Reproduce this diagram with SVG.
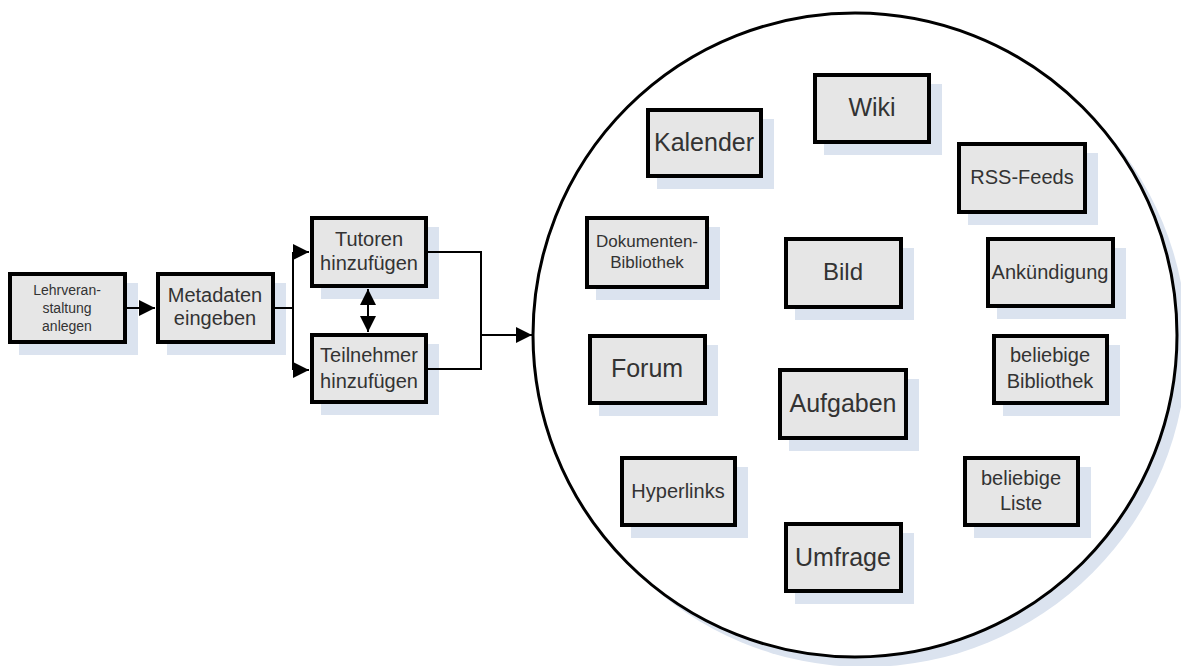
<svg xmlns="http://www.w3.org/2000/svg" width="1181" height="666" viewBox="0 0 1181 666">
  <style>
    .shadow { fill: #dbe3ef; }
    .box { fill: #e6e6e6; stroke: #000; stroke-width: 4; }
    .lbl { font-family: "Liberation Sans", Arial, sans-serif; fill: #333; text-anchor: middle; }
    .conn { fill: none; stroke: #000; stroke-width: 2; }
  </style>
  <defs>
    <marker id="arrow" viewBox="0 0 16 16" refX="16" refY="8" markerWidth="16" markerHeight="16" markerUnits="userSpaceOnUse" orient="auto-start-reverse">
      <path d="M0 0 L16 8 L0 16 z" fill="#000"/>
    </marker>
  </defs>
  <rect width="1181" height="666" fill="#fff"/>

  <!-- container circle -->
  <g id="container">
    <circle cx="865" cy="345" r="322" class="shadow"/>
    <circle cx="855" cy="335" r="322" fill="#fff" stroke="#000" stroke-width="3"/>
  </g>

  <!-- process chain -->
  <g id="lehrveranstaltung">
    <rect x="19" y="283" width="119" height="72" class="shadow"/>
    <rect x="10" y="274" width="115" height="68" class="box"/>
    <text class="lbl" font-size="14"><tspan x="67" y="295">Lehrveran-</tspan><tspan x="67" y="313">staltung</tspan><tspan x="67" y="331">anlegen</tspan></text>
  </g>
  <g id="metadaten">
    <rect x="167" y="283" width="119" height="72" class="shadow"/>
    <rect x="158" y="274" width="115" height="68" class="box"/>
    <text class="lbl" font-size="20"><tspan x="215" y="302">Metadaten</tspan><tspan x="215" y="325">eingeben</tspan></text>
  </g>
  <g id="tutoren">
    <rect x="321" y="227" width="118" height="72" class="shadow"/>
    <rect x="312" y="218" width="114" height="68" class="box"/>
    <text class="lbl" font-size="20"><tspan x="369" y="246">Tutoren</tspan><tspan x="369" y="270">hinzufügen</tspan></text>
  </g>
  <g id="teilnehmer">
    <rect x="321" y="344" width="118" height="71" class="shadow"/>
    <rect x="312" y="335" width="114" height="67" class="box"/>
    <text class="lbl" font-size="20"><tspan x="369" y="362">Teilnehmer</tspan><tspan x="369" y="388">hinzufügen</tspan></text>
  </g>

  <!-- connectors -->
  <g id="connectors">
    <path class="conn" d="M127 308 H155" marker-end="url(#arrow)"/>
    <path class="conn" d="M275 308 H293 M293 252 V370"/>
    <path class="conn" d="M293 252 H309" marker-end="url(#arrow)"/>
    <path class="conn" d="M293 370 H309" marker-end="url(#arrow)"/>
    <path class="conn" d="M368 289 V332" marker-start="url(#arrow)" marker-end="url(#arrow)"/>
    <path class="conn" d="M428 252 H481 V369 H428"/>
    <path class="conn" d="M481 335 H532" marker-end="url(#arrow)"/>
  </g>

  <!-- modules inside the container -->
  <g id="wiki">
    <rect x="824" y="84" width="118" height="71" class="shadow"/>
    <rect x="815" y="75" width="114" height="67" class="box"/>
    <text class="lbl" font-size="25" x="872" y="116">Wiki</text>
  </g>
  <g id="kalender">
    <rect x="657" y="119" width="117" height="70" class="shadow"/>
    <rect x="648" y="110" width="113" height="66" class="box"/>
    <text class="lbl" font-size="25" x="704" y="151">Kalender</text>
  </g>
  <g id="rss">
    <rect x="968" y="153" width="130" height="72" class="shadow"/>
    <rect x="959" y="144" width="126" height="68" class="box"/>
    <text class="lbl" font-size="20" x="1022" y="184">RSS-Feeds</text>
  </g>
  <g id="dokumentenbibliothek">
    <rect x="596" y="227" width="124" height="73" class="shadow"/>
    <rect x="587" y="218" width="120" height="69" class="box"/>
    <text class="lbl" font-size="17"><tspan x="647" y="247">Dokumenten-</tspan><tspan x="647" y="268">Bibliothek</tspan></text>
  </g>
  <g id="bild">
    <rect x="795" y="248" width="119" height="72" class="shadow"/>
    <rect x="786" y="239" width="115" height="68" class="box"/>
    <text class="lbl" font-size="24" x="843" y="280">Bild</text>
  </g>
  <g id="ankuendigung">
    <rect x="997" y="248" width="129" height="71" class="shadow"/>
    <rect x="988" y="239" width="125" height="67" class="box"/>
    <text class="lbl" font-size="20" x="1050" y="279">Ankündigung</text>
  </g>
  <g id="forum">
    <rect x="599" y="345" width="119" height="71" class="shadow"/>
    <rect x="590" y="336" width="115" height="67" class="box"/>
    <text class="lbl" font-size="25" x="647" y="377">Forum</text>
  </g>
  <g id="aufgaben">
    <rect x="789" y="379" width="130" height="72" class="shadow"/>
    <rect x="780" y="370" width="126" height="68" class="box"/>
    <text class="lbl" font-size="25" x="843" y="412">Aufgaben</text>
  </g>
  <g id="beliebige-bibliothek">
    <rect x="1003" y="345" width="117" height="71" class="shadow"/>
    <rect x="994" y="336" width="113" height="67" class="box"/>
    <text class="lbl" font-size="20"><tspan x="1050" y="362">beliebige</tspan><tspan x="1050" y="388">Bibliothek</tspan></text>
  </g>
  <g id="hyperlinks">
    <rect x="631" y="467" width="117" height="71" class="shadow"/>
    <rect x="622" y="458" width="113" height="67" class="box"/>
    <text class="lbl" font-size="20" x="678" y="498">Hyperlinks</text>
  </g>
  <g id="beliebige-liste">
    <rect x="974" y="467" width="117" height="71" class="shadow"/>
    <rect x="965" y="458" width="113" height="67" class="box"/>
    <text class="lbl" font-size="20"><tspan x="1021" y="485">beliebige</tspan><tspan x="1021" y="510">Liste</tspan></text>
  </g>
  <g id="umfrage">
    <rect x="795" y="533" width="119" height="71" class="shadow"/>
    <rect x="786" y="524" width="115" height="67" class="box"/>
    <text class="lbl" font-size="25" x="843" y="566">Umfrage</text>
  </g>
</svg>
